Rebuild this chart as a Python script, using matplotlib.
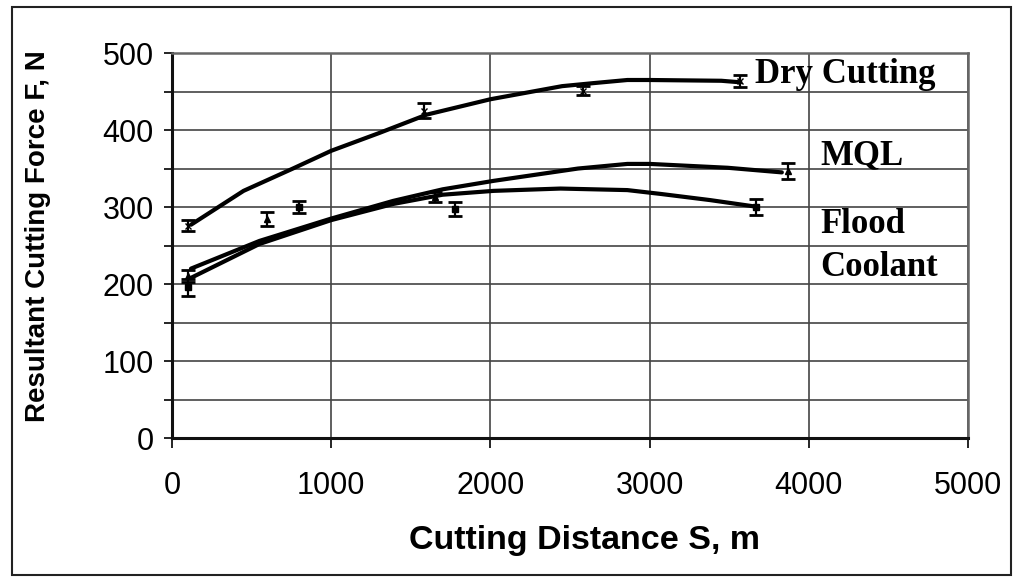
import numpy as np
import matplotlib.pyplot as plt
from matplotlib.patches import Rectangle

# Measured points (mean force with error bars)
dry_s = [100, 1580, 2580, 3570]
dry_f = [276, 425, 451, 464]
dry_err = [7, 10, 6, 8]

mql_s = [100, 600, 1650, 3870]
mql_f = [210, 285, 313, 347]
mql_err = [8, 9, 6, 10]

flood_s = [100, 800, 1780, 3670]
flood_f = [196, 300, 298, 300]
flood_err = [11, 8, 9, 10]

# Trend curves
dry_trend_s = [120, 450, 760, 1000, 1300, 1600, 2000, 2450, 2650, 2860, 3000, 3450, 3570]
dry_trend_f = [277, 321, 350, 373, 396, 420, 440, 457, 461, 465, 465, 464, 462]

mql_trend_s = [120, 550, 1000, 1390, 1700, 2020, 2550, 2860, 3000, 3490, 3830]
mql_trend_f = [220, 256, 285, 308, 323, 334, 350, 356, 356, 351, 345]

flood_trend_s = [120, 550, 1000, 1390, 1700, 2020, 2440, 2860, 3070, 3380, 3650]
flood_trend_f = [208, 252, 283, 304, 316, 321, 324, 322, 317, 309, 301]

labels = ["Dry Cutting", "MQL", "Flood\nCoolant"]

fig = plt.figure(figsize=(10.17, 5.83), dpi=100)
ax = fig.add_axes([0.169, 0.2487, 0.783, 0.6603])

# outer frame
fig.patches.append(Rectangle((0.012, 0.014), 0.982, 0.974, transform=fig.transFigure,
                             fill=False, edgecolor='#222222', linewidth=1.5))

for s, f in [(dry_trend_s, dry_trend_f), (mql_trend_s, mql_trend_f), (flood_trend_s, flood_trend_f)]:
    ax.plot(s, f, color='black', linewidth=3, solid_capstyle='round', zorder=3)

ax.errorbar(dry_s, dry_f, yerr=dry_err, fmt='x', color='black', markersize=4,
            capsize=5, elinewidth=1.6, capthick=2, zorder=4)
ax.errorbar(mql_s, mql_f, yerr=mql_err, fmt='^', color='black', markersize=5,
            capsize=5, elinewidth=1.6, capthick=2, zorder=4)
ax.errorbar(flood_s, flood_f, yerr=flood_err, fmt='s', color='black', markersize=4,
            capsize=5, elinewidth=1.6, capthick=2, zorder=4)

ax.set_xlim(0, 5000)
ax.set_ylim(0, 500)
ax.set_xticks(range(0, 5001, 1000))
ax.set_yticks(range(0, 501, 100))
ax.set_yticks(range(50, 500, 100), minor=True)
ax.grid(True, which='both', color='#444444', linewidth=1.2)
ax.set_axisbelow(True)

ax.tick_params(axis='y', which='both', direction='out', length=6, width=1.2,
               labelsize=22, pad=7)
ax.tick_params(axis='x', direction='out', length=7, width=1.2, labelsize=22, pad=17)
for lab in ax.get_xticklabels() + ax.get_yticklabels():
    lab.set_family('Liberation Sans')

for side in ['left', 'bottom']:
    ax.spines[side].set_linewidth(2.2)
    ax.spines[side].set_color('#111111')
for side in ['top', 'right']:
    ax.spines[side].set_linewidth(1.8)
    ax.spines[side].set_color('#666666')

ax.set_xlabel("Cutting Distance S, m", fontsize=24.5, family='Liberation Sans',
              fontweight='bold')
ax.xaxis.set_label_coords(0.518, -0.225)
ax.set_ylabel("Resultant Cutting Force F, N", fontsize=20, family='Liberation Sans',
              fontweight='bold')
ax.yaxis.set_label_coords(-0.152, 0.525)

serif = dict(family='Liberation Serif', fontweight='bold', fontsize=25, va='baseline', ha='left')
ax.text(3662, 461, labels[0], **serif)
ax.text(4070, 356, labels[1], **serif)
ax.text(4070, 266, labels[2].split("\n")[0], **serif)
ax.text(4070, 211, labels[2].split("\n")[1], **serif)

fig.savefig("out.png", dpi=100)
